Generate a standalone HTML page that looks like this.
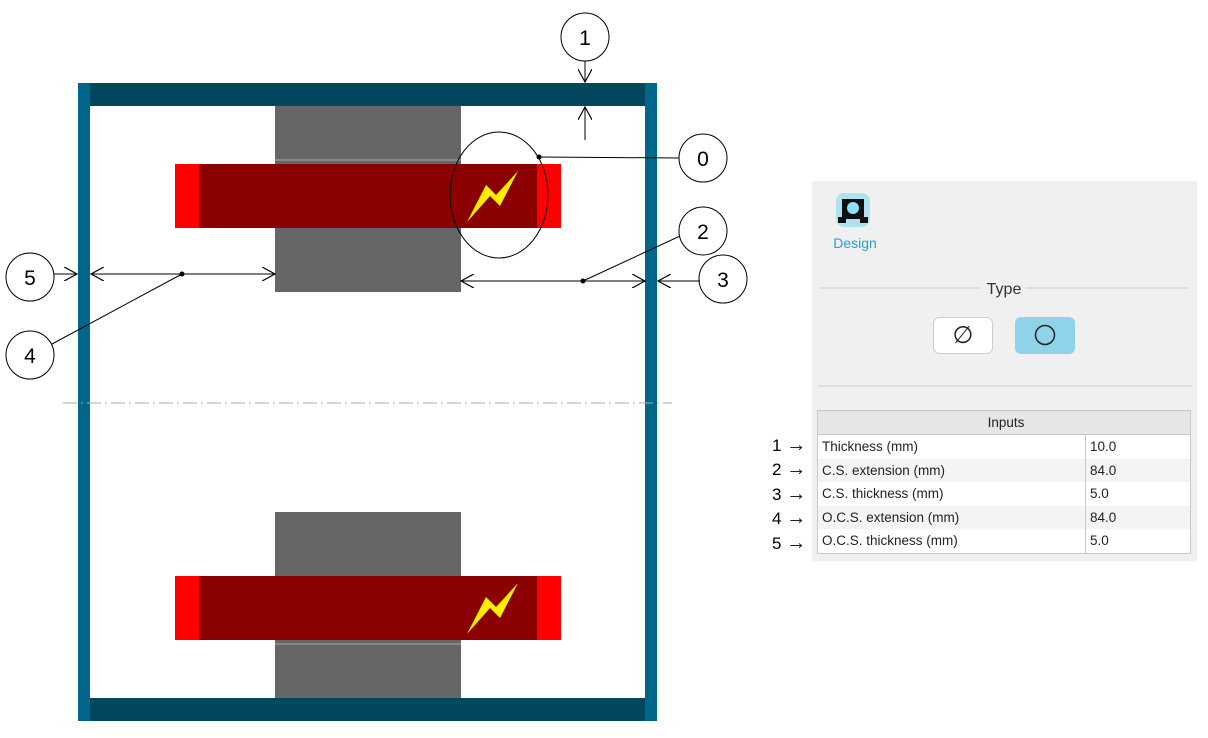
<!DOCTYPE html>
<html><head><style>
body{margin:0;width:1208px;height:738px;background:#fff;position:relative;overflow:hidden;font-family:"Liberation Sans",sans-serif;}
#panel{position:absolute;left:812px;top:181px;width:385px;height:380px;background:#f0f0f0;}
table{border-collapse:collapse;position:absolute;left:5px;top:229px;width:374px;font-size:13.5px;color:#222;}
td,th{height:23.5px;padding:0 0 0 4px;text-align:left;font-weight:normal;}
th{text-align:center;background:#e6e6e6;border:1px solid #c8c8c8;height:23px;}
tr:nth-child(odd) td{background:#f4f4f4}
tr:nth-child(even) td{background:#fff}
table{border:1px solid #c8c8c8}
td.v{border-left:1px solid #c8c8c8;width:100px}
.lbl{position:absolute;left:772px;font-size:17px;color:#000}
.lbl span{font-size:20px}
</style></head><body>
<svg width="1208" height="738" style="position:absolute;left:0;top:0">
<defs><marker id="a" viewBox="0 0 12 12" refX="11" refY="6" markerWidth="14" markerHeight="14" markerUnits="userSpaceOnUse" orient="auto"><path d="M0,0 L11,6 L0,12" fill="none" stroke="#000" stroke-width="1"/></marker></defs>
<rect x="275" y="106" width="186" height="186" fill="#666"/>
<line x1="275" y1="160" x2="461" y2="160" stroke="#aaa"/>
<rect x="275" y="512" width="186" height="186" fill="#666"/>
<line x1="275" y1="644" x2="461" y2="644" stroke="#aaa"/>
<rect x="175" y="164" width="386" height="64" fill="#ff0000"/>
<rect x="199" y="164" width="338" height="64" fill="#8b0000"/>
<rect x="175" y="576" width="386" height="64" fill="#ff0000"/>
<rect x="199" y="576" width="338" height="64" fill="#8b0000"/>
<path d="M518,171 L500,206 L490,196 L467,222 L486,185 L496,195 Z" fill="#ffee00"/>
<path d="M518,583 L500,618 L490,608 L467,634 L486,597 L496,607 Z" fill="#ffee00"/>
<rect x="78" y="83" width="579" height="23" fill="#03475f"/>
<rect x="78" y="698" width="579" height="23" fill="#03475f"/>
<rect x="78" y="83" width="12" height="638" fill="#00678a"/>
<rect x="645" y="83" width="12" height="638" fill="#00678a"/>
<line x1="63" y1="403" x2="672" y2="403" stroke="#aaa" stroke-dasharray="14,4,2,4"/>
<ellipse cx="499" cy="195" rx="49" ry="63" fill="none" stroke="#000"/>
<g fill="none" stroke="#000" stroke-width="1">
<circle cx="585" cy="37" r="24"/><circle cx="703" cy="158" r="24"/><circle cx="703" cy="231" r="24"/><circle cx="723" cy="279" r="24"/><circle cx="30" cy="277" r="24"/><circle cx="30" cy="355" r="24"/>
<line x1="585" y1="61" x2="585" y2="82" marker-end="url(#a)"/>
<line x1="585" y1="140" x2="585" y2="107" marker-end="url(#a)"/>
<line x1="679" y1="158" x2="539" y2="157"/>
<line x1="182" y1="274" x2="91" y2="274" marker-end="url(#a)"/>
<line x1="182" y1="274" x2="275" y2="274" marker-end="url(#a)"/>
<line x1="182" y1="274" x2="52" y2="344"/>
<line x1="54" y1="274" x2="77" y2="274" marker-end="url(#a)"/>
<line x1="583" y1="281" x2="461" y2="281" marker-end="url(#a)"/>
<line x1="583" y1="281" x2="645" y2="281" marker-end="url(#a)"/>
<line x1="583" y1="281" x2="680" y2="236"/>
<line x1="700" y1="281" x2="658" y2="281" marker-end="url(#a)"/>
</g>
<circle cx="539" cy="157" r="2.5"/><circle cx="182" cy="274" r="2.5"/><circle cx="583" cy="281" r="2.5"/>
<g font-family="Liberation Sans" font-size="21" text-anchor="middle">
<text x="585" y="45">1</text><text x="703" y="166">0</text><text x="703" y="239">2</text><text x="723" y="287">3</text><text x="30" y="285">5</text><text x="30" y="363">4</text>
</g>
</svg>
<div id="panel">
<svg width="385" height="210" style="position:absolute;left:0;top:0">
<rect x="24" y="12" width="34" height="34" rx="8" fill="#60d0f0" opacity="0.45"/>
<path d="M30,18 h22 v18 h4 v6 h-8 v-4 h-14 v4 h-8 v-6 h4 z" fill="#111"/>
<circle cx="41" cy="27" r="6" fill="#8ee0ff"/>
<text x="43" y="67" font-family="Liberation Sans" font-size="14" fill="#2a9fd0" text-anchor="middle">Design</text>
<line x1="8" y1="107" x2="168" y2="107" stroke="#ccc"/><line x1="214" y1="107" x2="377" y2="107" stroke="#ccc"/>
<text x="192" y="113" font-family="Liberation Sans" font-size="16" fill="#333" text-anchor="middle">Type</text>
<rect x="121.5" y="136.5" width="59" height="36" rx="6" fill="#fff" stroke="#ccc"/>
<text x="151" y="162" font-family="Liberation Sans" font-size="24" fill="#222" text-anchor="middle">∅</text>
<rect x="203" y="136" width="60" height="37" rx="6" fill="#8fd3ea"/>
<circle cx="233" cy="154" r="9.5" fill="none" stroke="#222" stroke-width="1.5"/>
<line x1="6" y1="205" x2="380" y2="205" stroke="#ccc"/>
</svg>
<table>
<tr><th colspan="2">Inputs</th></tr>
<tr><td>Thickness (mm)</td><td class="v">10.0</td></tr>
<tr><td>C.S. extension (mm)</td><td class="v">84.0</td></tr>
<tr><td>C.S. thickness (mm)</td><td class="v">5.0</td></tr>
<tr><td>O.C.S. extension (mm)</td><td class="v">84.0</td></tr>
<tr><td>O.C.S. thickness (mm)</td><td class="v">5.0</td></tr>
</table>
</div>
<div class="lbl" style="top:434px">1 <span>→</span></div>
<div class="lbl" style="top:458px">2 <span>→</span></div>
<div class="lbl" style="top:483px">3 <span>→</span></div>
<div class="lbl" style="top:507px">4 <span>→</span></div>
<div class="lbl" style="top:532px">5 <span>→</span></div>
</body></html>
